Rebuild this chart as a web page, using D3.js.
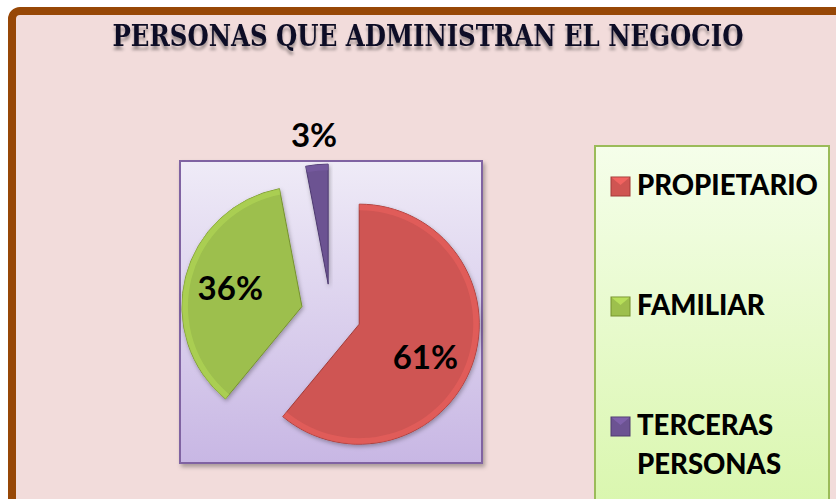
<!DOCTYPE html>
<html><head><meta charset="utf-8">
<script src="https://cdn.jsdelivr.net/npm/d3@7"></script>
<style>
html,body{margin:0;padding:0;background:#fff;overflow:hidden;}
svg{display:block;}
</style></head>
<body>
<svg id="chart" width="836" height="499"></svg>
<script>
const title = "PERSONAS QUE ADMINISTRAN EL NEGOCIO";
const categories = ["PROPIETARIO", "FAMILIAR", "TERCERAS PERSONAS"];
const values = [61, 36, 3];
const colors = ["#cf5552", "#9dbf4d", "#6c5392"];
const edgeColors = ["#a23b38", "#76922f", "#4e3a70"];

const svg = d3.select("#chart");
const defs = svg.append("defs");

// frame
svg.append("rect").attr("x", 12).attr("y", 11).attr("width", 900).attr("height", 600)
  .attr("rx", 8).attr("fill", "#f2dcdb").attr("stroke", "#974706").attr("stroke-width", 8);

// title
const tf = defs.append("filter").attr("id", "tshadow").attr("x", "-5%").attr("y", "-50%").attr("width", "110%").attr("height", "220%");
tf.append("feGaussianBlur").attr("in", "SourceAlpha").attr("stdDeviation", 1.5).attr("result", "b");
tf.append("feOffset").attr("in", "b").attr("dy", 4).attr("result", "o");
tf.append("feComponentTransfer").attr("in", "o").attr("result", "o2")
  .append("feFuncA").attr("type", "linear").attr("slope", 0.35);
const tm = tf.append("feMerge");
tm.append("feMergeNode").attr("in", "o2");
tm.append("feMergeNode").attr("in", "SourceGraphic");

svg.append("text").attr("x", 428).attr("y", 46).attr("text-anchor", "middle")
  .attr("font-family", "'DejaVu Serif Condensed','DejaVu Serif',serif").attr("font-stretch", "condensed")
  .attr("font-weight", "bold").attr("font-size", 30).attr("fill", "#0e0e26")
  .attr("textLength", 631).attr("lengthAdjust", "spacingAndGlyphs")
  .attr("filter", "url(#tshadow)").text(title);

// plot area
const pg = defs.append("linearGradient").attr("id", "plotg").attr("x1", 0).attr("y1", 0).attr("x2", 0).attr("y2", 1);
pg.append("stop").attr("offset", "0%").attr("stop-color", "#efebf7");
pg.append("stop").attr("offset", "100%").attr("stop-color", "#c8b7e4");
const sh = defs.append("filter").attr("id", "boxshadow").attr("x", "-10%").attr("y", "-10%").attr("width", "125%").attr("height", "125%");
sh.append("feDropShadow").attr("dx", 2).attr("dy", 3).attr("stdDeviation", 2).attr("flood-color", "#000").attr("flood-opacity", 0.3);
svg.append("rect").attr("x", 180).attr("y", 161).attr("width", 302).attr("height", 302)
  .attr("fill", "url(#plotg)").attr("stroke", "#8064a2").attr("stroke-width", 2).attr("filter", "url(#boxshadow)");

// pie
const cx = 331, cy = 314, R = 120, explode = 30;
const pie = d3.pie().sort(null).value(d => d)(values);
const arc = d3.arc().innerRadius(0).outerRadius(R);
const total = d3.sum(values);

const ps = defs.append("filter").attr("id", "pieshadow").attr("x", "-20%").attr("y", "-20%").attr("width", "140%").attr("height", "140%");
ps.append("feDropShadow").attr("dx", 1).attr("dy", 2).attr("stdDeviation", 2).attr("flood-color", "#000").attr("flood-opacity", 0.3);

const slices = svg.append("g").attr("transform", `translate(${cx},${cy})`);
pie.forEach((p, i) => {
  const mid = (p.startAngle + p.endAngle) / 2;
  const ox = explode * Math.sin(mid), oy = -explode * Math.cos(mid);
  const g = slices.append("g").attr("transform", `translate(${ox},${oy})`);
  g.append("path").attr("d", arc(p)).attr("fill", colors[i])
    .attr("stroke", edgeColors[i]).attr("stroke-width", 1).attr("filter", "url(#pieshadow)");
  // bevel highlight
  g.append("path").attr("d", d3.arc().innerRadius(R - 6).outerRadius(R)(p))
    .attr("fill", d3.color(colors[i]).brighter(0.35)).attr("opacity", 0.6);
  const pct = p.value / total;
  const lr = pct < 0.05 ? 150 : 74;
  const la = pct < 0.05 ? mid : mid + (pct > 0.5 ? 0.12 : 0);
  const lx = ox + lr * Math.sin(la), ly = oy - lr * Math.cos(la);
  slices.append("text").attr("x", lx).attr("y", ly).attr("dy", "0.36em")
    .attr("text-anchor", "middle").attr("font-family", "Lato, 'Open Sans', sans-serif")
    .attr("font-weight", "bold").attr("font-size", 33).attr("fill", "#000")
    .text(Math.round(pct * 100) + "%");
});

// legend
const lg = defs.append("linearGradient").attr("id", "legg").attr("x1", 0).attr("y1", 0).attr("x2", 0).attr("y2", 1);
lg.append("stop").attr("offset", "0%").attr("stop-color", "#f5feea");
lg.append("stop").attr("offset", "100%").attr("stop-color", "#d8f6ab");
svg.append("rect").attr("x", 595).attr("y", 146).attr("width", 234).attr("height", 380)
  .attr("fill", "url(#legg)").attr("stroke", "#9bbb59").attr("stroke-width", 2);

const legY = d3.scalePoint().domain(categories).range([195, 435]);
categories.forEach((c, i) => {
  const y = legY(c);
  svg.append("rect").attr("x", 611).attr("y", y - 18).attr("width", 19).attr("height", 19)
    .attr("fill", colors[i]).attr("stroke", edgeColors[i]).attr("stroke-width", 1);
  svg.append("path").attr("d", `M${611.5},${y - 17.5}L${629.5},${y - 17.5}L${620.5},${y - 10}Z`)
    .attr("fill", d3.color(colors[i]).brighter(0.6)).attr("opacity", 0.7);
  const t = svg.append("text").attr("x", 637).attr("y", y)
    .attr("font-family", "Lato, 'Open Sans', sans-serif").attr("font-weight", 900)
    .attr("font-size", 27.5).attr("fill", "#000");
  c.split(" ").forEach((w, k) => {
    t.append("tspan").attr("x", 637).attr("dy", k === 0 ? 0 : 38.5).text(w);
  });
});
</script>
</body></html>
